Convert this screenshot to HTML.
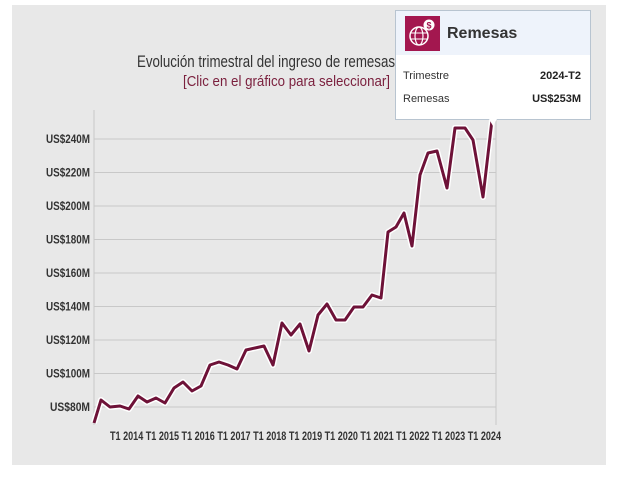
<!DOCTYPE html>
<html><head><meta charset="utf-8"><style>
body{margin:0;background:#fff;width:622px;height:474px;overflow:hidden;font-family:"Liberation Sans",sans-serif}
</style></head><body>
<svg width="622" height="474" xmlns="http://www.w3.org/2000/svg" font-family="Liberation Sans, sans-serif">
<rect x="12" y="5" width="594" height="460" fill="#e8e8e8"/>
<text x="137" y="67" font-size="17" fill="#333" textLength="258" lengthAdjust="spacingAndGlyphs">Evolución trimestral del ingreso de remesas</text>
<text x="183" y="86" font-size="15" fill="#7a1f3d" textLength="207" lengthAdjust="spacingAndGlyphs">[Clic en el gráfico para seleccionar]</text>
<g stroke="#c8c8c8" stroke-width="1">
<line x1="94" y1="139" x2="496" y2="139"/><line x1="94" y1="172.5" x2="496" y2="172.5"/>
<line x1="94" y1="206" x2="496" y2="206"/><line x1="94" y1="239.5" x2="496" y2="239.5"/>
<line x1="94" y1="273" x2="496" y2="273"/><line x1="94" y1="306.5" x2="496" y2="306.5"/>
<line x1="94" y1="340" x2="496" y2="340"/><line x1="94" y1="373.5" x2="496" y2="373.5"/>
<line x1="94" y1="407" x2="496" y2="407"/>
<line x1="94" y1="110" x2="94" y2="425"/><line x1="496" y1="110" x2="496" y2="425"/>
</g>
<g font-size="12" fill="#333" text-anchor="end" font-weight="bold">
<text x="90" y="143" textLength="44" lengthAdjust="spacingAndGlyphs">US$240M</text>
<text x="90" y="176.5" textLength="44" lengthAdjust="spacingAndGlyphs">US$220M</text>
<text x="90" y="210" textLength="44" lengthAdjust="spacingAndGlyphs">US$200M</text>
<text x="90" y="243.5" textLength="44" lengthAdjust="spacingAndGlyphs">US$180M</text>
<text x="90" y="277" textLength="44" lengthAdjust="spacingAndGlyphs">US$160M</text>
<text x="90" y="310.5" textLength="44" lengthAdjust="spacingAndGlyphs">US$140M</text>
<text x="90" y="344" textLength="44" lengthAdjust="spacingAndGlyphs">US$120M</text>
<text x="90" y="377.5" textLength="44" lengthAdjust="spacingAndGlyphs">US$100M</text>
<text x="90" y="411" textLength="40" lengthAdjust="spacingAndGlyphs">US$80M</text>
</g>
<text x="110" y="440" font-size="12" font-weight="bold" fill="#333" textLength="391" lengthAdjust="spacingAndGlyphs">T1 2014 T1 2015 T1 2016 T1 2017 T1 2018 T1 2019 T1 2020 T1 2021 T1 2022 T1 2023 T1 2024</text>
<polyline fill="none" stroke="#fff" stroke-width="6" stroke-linejoin="round" points="94,423 101,400 110,407 120,406 129,409 138,396 147,402 156,398 165,403 174,388 183,382 192,391 201,386 210,365 219,362 228,365 237,369 246,350 255,348 264,346 273,365 282,323 291,335 300,324 309,351 318,315 327,304 336,320 345,320 354,307 363,307 372,295 381,298 388,232 396,227 404,213 412,246 420,175 428,153 437,151 447,188 455,128 465,128 473,140 483,197 492,120"/>
<polyline fill="none" stroke="#6e1238" stroke-width="3" stroke-linejoin="round" points="94,423 101,400 110,407 120,406 129,409 138,396 147,402 156,398 165,403 174,388 183,382 192,391 201,386 210,365 219,362 228,365 237,369 246,350 255,348 264,346 273,365 282,323 291,335 300,324 309,351 318,315 327,304 336,320 345,320 354,307 363,307 372,295 381,298 388,232 396,227 404,213 412,246 420,175 428,153 437,151 447,188 455,128 465,128 473,140 483,197 492,120"/>
<rect x="395.5" y="10.5" width="195" height="109" fill="#fff" stroke="#b8c4d0"/>
<rect x="396" y="11" width="194" height="44" fill="#eef3fb"/>
<path d="M489,119 L493,126 L497,119 Z" fill="#fff"/>
<rect x="405" y="16" width="35" height="35" fill="#a3174f"/>
<circle cx="419" cy="36" r="9" fill="none" stroke="#fff" stroke-width="1.5"/>
<ellipse cx="419" cy="36" rx="4" ry="9" fill="none" stroke="#fff" stroke-width="1.2"/>
<line x1="410" y1="33" x2="428" y2="33" stroke="#fff"/><line x1="410" y1="39" x2="428" y2="39" stroke="#fff"/>
<circle cx="429" cy="25" r="5.5" fill="#fff"/><text x="429" y="28.5" font-size="9" font-weight="bold" fill="#a3174f" text-anchor="middle">$</text>
<text x="447" y="38" font-size="16" font-weight="bold" fill="#333">Remesas</text>
<text x="403" y="79" font-size="11" fill="#333">Trimestre</text>
<text x="581" y="79" font-size="11" font-weight="bold" fill="#222" text-anchor="end">2024-T2</text>
<text x="403" y="102" font-size="11" fill="#333">Remesas</text>
<text x="581" y="102" font-size="11" font-weight="bold" fill="#222" text-anchor="end">US$253M</text>
</svg>
</body></html>
